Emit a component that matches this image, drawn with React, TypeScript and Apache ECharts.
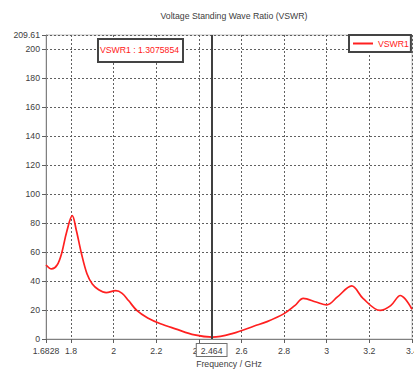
import React, { useEffect, useRef } from "react";
import * as echarts from "echarts";

const seriesName = "VSWR1";
const chartTitle = "Voltage Standing Wave Ratio (VSWR)";
const xAxisName = "Frequency / GHz";

const freq = [
  1.6828, 1.709, 1.735, 1.756, 1.78, 1.806, 1.825, 1.849, 1.875, 1.9,
  1.93, 1.965, 2.01, 2.04, 2.07, 2.11, 2.16, 2.22, 2.29, 2.38,
  2.464, 2.56, 2.66, 2.72, 2.8, 2.85, 2.89, 2.95, 3.0, 3.05,
  3.117, 3.17, 3.25, 3.3, 3.345, 3.4,
];
const vswr = [
  51, 48.3, 51, 59, 74, 85, 75, 59, 45, 38,
  34, 32, 33.3, 31.5, 26.5, 19.5, 14.5, 10.5, 7, 2.8,
  1.3075854, 3.9, 9, 12, 17.5, 23, 28, 25.5, 23.5, 29,
  36.6, 28, 19.7, 23, 30, 20.5,
];

const xTickValues = [1.6828, 1.8, 2, 2.2, 2.4, 2.6, 2.8, 3, 3.2, 3.4];
const yTickValues = [0, 20, 40, 60, 80, 100, 120, 140, 160, 180, 200, 209.61];

const markerFreq = 2.464;
const markerValue = 1.3075854;

const FONT = "Liberation Sans";
const FS = 8.7;

export default function App() {
  const ref = useRef<HTMLDivElement>(null);
  useEffect(() => {
    if (!ref.current) return;
    const chart = echarts.init(ref.current, undefined, { renderer: "svg" });
    const data = freq.map((f, i) => [f, vswr[i]]);
    chart.setOption({
      animation: false,
      backgroundColor: "#ffffff",
      title: {
        text: chartTitle,
        left: 229,
        top: 6,
        textAlign: "center",
        textStyle: { fontFamily: FONT, fontSize: FS, fontWeight: "normal", color: "#404040" },
      },
      legend: {
        left: 349,
        top: 35,
        padding: [4, 2, 4, 4],
        itemWidth: 20,
        itemHeight: 2,
        icon: "rect",
        borderColor: "#444",
        borderWidth: 2,
        backgroundColor: "#ffffff",
        textStyle: { fontFamily: FONT, fontSize: FS, color: "#ff2020" },
        data: [seriesName],
      },
      grid: {
        left: 46,
        right: 2,
        top: 35,
        bottom: 32,
        show: true,
        borderColor: "#c0c0c0",
        borderWidth: 1,
        backgroundColor: "transparent",
        containLabel: false,
        outerBoundsMode: "none",
      },
      xAxis: {
        type: "value",
        min: 1.6828,
        max: 3.4,
        name: xAxisName,
        nameLocation: "middle",
        nameGap: 20,
        nameTextStyle: { fontFamily: FONT, fontSize: FS, color: "#404040" },
        axisLine: { show: true, lineStyle: { color: "#808080", width: 1 } },
        axisTick: { show: true, length: 4, customValues: xTickValues, lineStyle: { color: "#606060" } },
        axisLabel: {
          customValues: xTickValues,
          margin: 7,
          fontFamily: FONT,
          fontSize: FS,
          color: "#404040",
          formatter: (v: number) => String(v),
        },
        splitLine: { show: true, lineStyle: { color: "#606060", type: [2, 2], width: 1 } },
      },
      yAxis: {
        type: "value",
        min: 0,
        max: 209.61,
        axisLine: { show: true, lineStyle: { color: "#808080", width: 1 } },
        axisTick: { show: true, length: 4, customValues: yTickValues, lineStyle: { color: "#606060" } },
        axisLabel: {
          customValues: yTickValues,
          margin: 6,
          fontFamily: FONT,
          fontSize: FS,
          color: "#404040",
          formatter: (v: number) => String(v),
        },
        splitLine: { show: true, lineStyle: { color: "#606060", type: [2, 2], width: 1 } },
      },
      graphic: [
        {
          type: "rect",
          left: 97,
          top: 38,
          z: 100,
          shape: { x: 0, y: 0, width: 85, height: 23 },
          style: { fill: "#ffffff", stroke: "#444444", lineWidth: 2 },
        },
        {
          type: "text",
          x: 139.5,
          y: 49.5,
          z: 101,
          style: {
            text: `${seriesName} : ${markerValue}`,
            fill: "#ff2020",
            font: `${FS}px '${FONT}'`,
            align: "center",
            verticalAlign: "middle",
          },
        },
      ],
      series: [
        {
          name: seriesName,
          type: "line",
          data,
          smooth: 0.35,
          showSymbol: false,
          lineStyle: { color: "#ff2020", width: 1.7 },
          itemStyle: { color: "#ff2020" },
          markLine: {
            silent: true,
            symbol: ["none", "none"],
            data: [{ xAxis: markerFreq }],
            lineStyle: { color: "#404040", width: 2, type: "solid" },
            label: {
              show: true,
              position: "start",
              distance: 5,
              formatter: String(markerFreq),
              backgroundColor: "#ffffff",
              borderColor: "#707070",
              borderWidth: 1,
              padding: [2, 4, 1, 4],
              fontFamily: FONT,
              fontSize: FS,
              color: "#404040",
            },
          },
        },
      ],
    });
    return () => chart.dispose();
  }, []);
  return (
    <div
      ref={ref}
      style={{ position: "absolute", left: 0, top: 0, width: 414, height: 371 }}
    />
  );
}
